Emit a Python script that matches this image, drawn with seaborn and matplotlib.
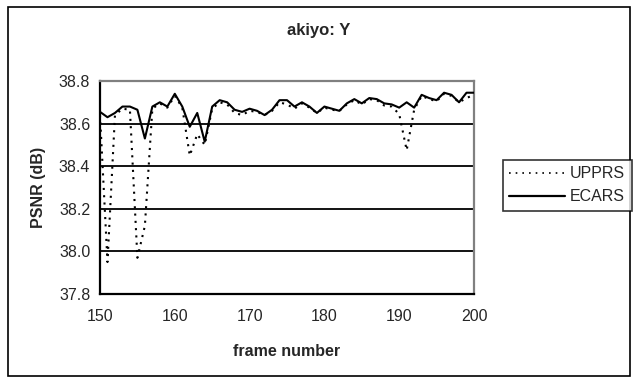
import matplotlib
matplotlib.use("Agg")
import matplotlib.pyplot as plt
import seaborn as sns
import pandas as pd
from matplotlib.patches import Rectangle
from matplotlib.lines import Line2D

frames = list(range(150, 201))
ecars = [38.655, 38.63, 38.65, 38.68, 38.68, 38.665, 38.53, 38.68, 38.70, 38.68,
         38.74, 38.68, 38.585, 38.65, 38.515, 38.68, 38.71, 38.70, 38.665, 38.655,
         38.67, 38.66, 38.64, 38.665, 38.71, 38.71, 38.68, 38.70, 38.68, 38.65,
         38.68, 38.67, 38.66, 38.695, 38.715, 38.695, 38.72, 38.715, 38.695, 38.69,
         38.675, 38.70, 38.675, 38.735, 38.72, 38.71, 38.745, 38.735, 38.70, 38.745,
         38.745]
upprs = [38.64, 37.95, 38.64, 38.67, 38.665, 37.97, 38.12, 38.67, 38.695, 38.675,
         38.73, 38.675, 38.45, 38.55, 38.50, 38.67, 38.70, 38.69, 38.65, 38.64,
         38.66, 38.655, 38.64, 38.66, 38.70, 38.69, 38.67, 38.695, 38.675, 38.65,
         38.675, 38.665, 38.66, 38.69, 38.71, 38.69, 38.715, 38.71, 38.685, 38.68,
         38.645, 38.475, 38.665, 38.73, 38.715, 38.705, 38.74, 38.73, 38.70, 38.72,
         38.735]
xticks = [150, 160, 170, 180, 190, 200]
yticks = [37.8, 38.0, 38.2, 38.4, 38.6, 38.8]

sns.set_style("white")
plt.rcParams['font.family'] = ['Liberation Sans', 'DejaVu Sans']

df = pd.DataFrame({"frame": frames + frames,
                   "psnr": upprs + ecars,
                   "method": ["UPPRS"] * len(frames) + ["ECARS"] * len(frames)})

fig = plt.figure(figsize=(6.37, 3.83), dpi=100)
ax = fig.add_axes([100/637, 1 - 294/383, 374/637, 213/383])

for y in [38.0, 38.2, 38.4, 38.6]:
    ax.axhline(y, color='black', lw=1.3, zorder=1)

sns.lineplot(data=df, x="frame", y="psnr", hue="method", style="method",
             palette={"UPPRS": "black", "ECARS": "black"},
             dashes={"UPPRS": (1, 2.5), "ECARS": ""},
             linewidth=1.5, ax=ax, legend=False, zorder=3)

ax.set_xlim(150, 200)
ax.set_ylim(37.8, 38.8)
ax.set_xticks(xticks)
ax.set_yticks(yticks)
ax.set_yticklabels([f"{v:.1f}" for v in yticks])
ax.tick_params(axis='x', direction='out', length=4, width=1.3, labelsize=11.5, pad=7)
ax.tick_params(axis='y', direction='inout', length=6, width=1.3, labelsize=11.5, pad=4)
for s in ['left', 'bottom']:
    ax.spines[s].set_color('black')
    ax.spines[s].set_linewidth(1.6)
for s in ['top', 'right']:
    ax.spines[s].set_color('#808080')
    ax.spines[s].set_linewidth(1.6)

ax.set_xlabel("frame number", fontsize=11.5, fontweight='bold', labelpad=14)
ax.set_ylabel("PSNR (dB)", fontsize=11.5, fontweight='bold', labelpad=9)
fig.text(0.5, 1 - 30/383, "akiyo: Y", ha='center', va='center', fontsize=12, fontweight='bold')

handles = [Line2D([], [], color='black', lw=1.2, dashes=(1, 3)),
           Line2D([], [], color='black', lw=1.6)]
leg = fig.legend(handles, ["UPPRS", "ECARS"], loc='upper left',
                 bbox_to_anchor=(503/637, 1 - 160/383), frameon=True, fancybox=False,
                 edgecolor='black', fontsize=11.5, handlelength=3.5, handletextpad=0.3,
                 borderpad=0.4, labelspacing=0.5, borderaxespad=0)
leg.get_frame().set_linewidth(1.2)

fig.patches.append(Rectangle((8/637, 7/383), 622/637, 369/383, transform=fig.transFigure,
                             fill=False, edgecolor='black', lw=1.2))

fig.savefig("out.png", dpi=100)
